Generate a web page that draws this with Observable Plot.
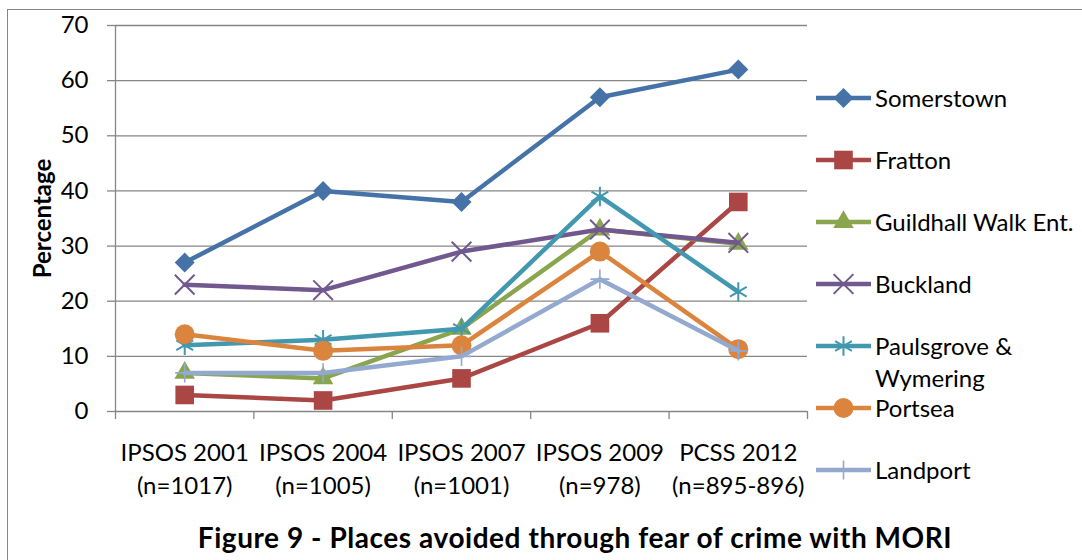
<!DOCTYPE html>
<html>
<head>
<meta charset="utf-8">
<script src="https://cdn.jsdelivr.net/npm/d3@7"></script>
<script src="https://cdn.jsdelivr.net/npm/@observablehq/plot@0.6"></script>
<style>
  html, body { margin: 0; padding: 0; background: #fff; overflow: hidden; }
  #wrap { position: relative; width: 1082px; height: 560px; font-family: Lato, "Open Sans", sans-serif; color: #000; }
  #frame { position: absolute; left: 7px; top: 9px; width: 2000px; height: 2000px;
           border-left: 1.3px solid #868686; border-top: 1.3px solid #868686; }
  #chart { position: absolute; left: 0; top: 0; }
  #chart svg [aria-label="y-axis label"] text { font-weight: bold; font-size: 24px; }
  #legend { position: absolute; left: 816px; top: 0; }
  .item { position: absolute; left: 0; display: flex; align-items: flex-start; }
  .item svg { flex: none; }
  .item span { margin-left: 4px; font-size: 24px; line-height: 32px; width: 212px; }
  #title { position: absolute; left: 0; width: 1150px; top: 520px; text-align: center;
           font-size: 28px; letter-spacing: 0.55px; font-weight: bold; line-height: 34px; white-space: nowrap; }
</style>
</head>
<body>
<div id="wrap">
  <div id="frame"></div>
  <div id="chart"></div>
  <div id="legend"></div>
  <div id="title">Figure 9 - Places avoided through fear of crime with MORI</div>
</div>
<script>
// Surveys along the x axis
const surveys = ["IPSOS 2001", "IPSOS 2004", "IPSOS 2007", "IPSOS 2009", "PCSS 2012"];
const sampleSizes = ["(n=1017)", "(n=1005)", "(n=1001)", "(n=978)", "(n=895-896)"];

// Percentage of respondents avoiding each place
const somerstown = [27, 40, 38, 57, 62];
const fratton = [3, 2, 6, 16, 38];
const guildhall = [7, 6, 15, 33, 30.4];
const buckland = [23, 22, 29, 33, 30.6];
const paulsgrove = [12, 13, 15, 39, 21.7];
const portsea = [14, 11, 12, 29, 11.3];
const landport = [7, 7, 10, 24, 11];

const seriesNames = ["Somerstown", "Fratton", "Guildhall Walk Ent.", "Buckland",
                     "Paulsgrove & Wymering", "Portsea", "Landport"];
const seriesValues = [somerstown, fratton, guildhall, buckland, paulsgrove, portsea, landport];

const yTicks = [0, 10, 20, 30, 40, 50, 60, 70];

// Styling for each series: colour, marker shape, marker radius, filled or outlined
const colors = ["#4572A7", "#AA4643", "#89A54E", "#71588F", "#4198AF", "#DB843D", "#93A9CF"];
const markerStyles = [
  {symbol: "diamond2", r: 9, filled: true},
  {symbol: "square", r: 10.5, filled: true},
  {symbol: "triangle", r: 7.6, filled: true},
  {symbol: "times", r: 9, filled: false, width: 2},
  {symbol: "asterisk", r: 9.2, filled: false, width: 2},
  {symbol: "circle", r: 10, filled: true},
  {symbol: "plus", r: 6.2, filled: false, width: 1.6}
];
const d3Symbols = {
  diamond2: d3.symbolDiamond2, square: d3.symbolSquare, triangle: d3.symbolTriangle,
  times: d3.symbolTimes, asterisk: d3.symbolAsterisk, circle: d3.symbolCircle, plus: d3.symbolPlus
};

const gray = "#868686";
const positions = surveys.map((_, i) => i + 0.5);

const seriesMarks = seriesValues.flatMap((values, s) => {
  const m = markerStyles[s];
  const c = colors[s];
  return [
    Plot.line(values, {x: (d, i) => positions[i], y: d => d, stroke: c, strokeWidth: 4.5,
                       strokeLinejoin: "round", strokeLinecap: "round"}),
    Plot.dot(values, {x: (d, i) => positions[i], y: d => d, symbol: m.symbol, r: m.r,
                      fill: m.filled ? c : "none", stroke: m.filled ? "none" : c,
                      strokeWidth: m.width || 0})
  ];
});

const chart = Plot.plot({
  width: 1082,
  height: 560,
  marginLeft: 115,
  marginRight: 275,
  marginTop: 25,
  marginBottom: 149,
  style: {fontFamily: "Lato, 'Open Sans', sans-serif", fontSize: "24px", color: "#000", background: "none", overflow: "visible"},
  x: {domain: [0, surveys.length]},
  y: {domain: [0, 70]},
  marks: [
    Plot.gridY(yTicks.slice(1), {stroke: gray, strokeOpacity: 1, strokeWidth: 1.3}),
    Plot.ruleX([0], {stroke: gray, strokeWidth: 1.3}),
    Plot.ruleY([0], {stroke: gray, strokeWidth: 1.3}),
    Plot.axisY(yTicks, {tickSize: 8, tickPadding: 19, stroke: gray, strokeWidth: 1.3, fill: "#000",
                        fontSize: 24, label: "Percentage", labelArrow: "none",
                        labelAnchor: "center", labelOffset: 82}),
    Plot.axisX(d3.range(surveys.length + 1), {tickSize: 8, stroke: gray, strokeWidth: 1.3,
                                              tickFormat: () => "", label: null}),
    Plot.axisX(positions, {tickSize: 0, tickPadding: 26, fill: "#000", fontSize: 24, lineHeight: 1.38,
                           tickFormat: (d) => {
                             const i = positions.indexOf(d);
                             return surveys[i] + "\n" + sampleSizes[i];
                           }, label: null}),
    ...seriesMarks
  ]
});
document.getElementById("chart").append(chart);

// Legend: line sample with marker, then the series name
const legend = d3.select("#legend");
seriesNames.forEach((name, s) => {
  const m = markerStyles[s];
  const c = colors[s];
  const item = legend.append("div").attr("class", "item").style("top", (82 + s * 62) + "px");
  const svg = item.append("svg").attr("width", 55).attr("height", 32);
  svg.append("line").attr("x1", 0).attr("x2", 55).attr("y1", 16).attr("y2", 16)
     .attr("stroke", c).attr("stroke-width", 4.5).attr("stroke-linecap", "round");
  svg.append("path")
     .attr("transform", "translate(27.5,16)")
     .attr("d", d3.symbol(d3Symbols[m.symbol], Math.PI * m.r * m.r)())
     .attr("fill", m.filled ? c : "none")
     .attr("stroke", m.filled ? "none" : c)
     .attr("stroke-width", m.width || 0);
  item.append("span").text(name);
});
</script>
</body>
</html>
